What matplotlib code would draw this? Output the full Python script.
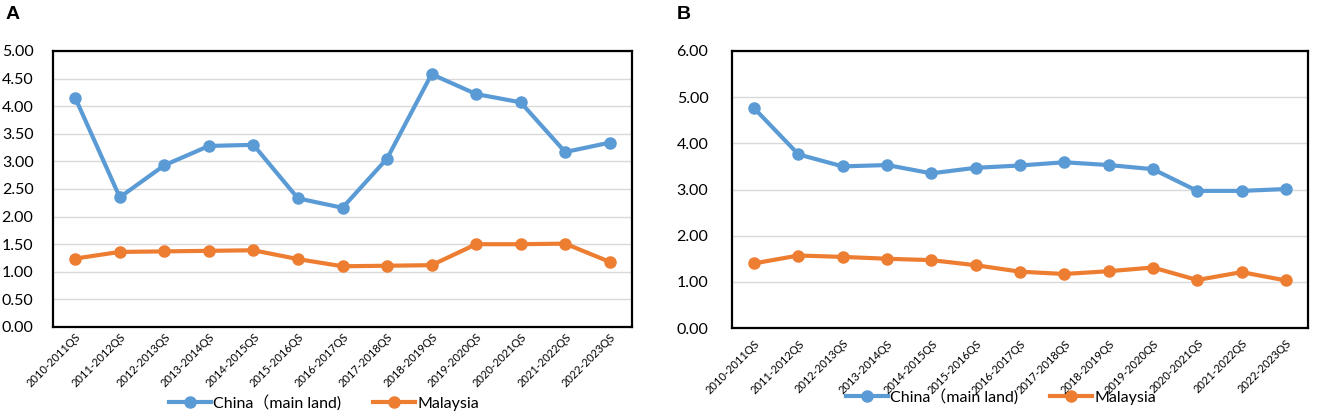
import matplotlib
matplotlib.use('Agg')
import matplotlib.pyplot as plt

# x categories (shared by both panels)
periods = ['2010-2011QS', '2011-2012QS', '2012-2013QS', '2013-2014QS', '2014-2015QS',
           '2015-2016QS', '2016-2017QS', '2017-2018QS', '2018-2019QS', '2019-2020QS',
           '2020-2021QS', '2021-2022QS', '2022-2023QS']

# Panel A
china_a = [4.15, 2.35, 2.93, 3.28, 3.30, 2.33, 2.16, 3.05, 4.58, 4.22, 4.07, 3.17, 3.34]
malaysia_a = [1.24, 1.36, 1.37, 1.38, 1.39, 1.23, 1.10, 1.11, 1.12, 1.50, 1.50, 1.51, 1.18]
yticks_a = [0, 0.5, 1.0, 1.5, 2.0, 2.5, 3.0, 3.5, 4.0, 4.5, 5.0]

# Panel B
china_b = [4.76, 3.76, 3.50, 3.53, 3.35, 3.47, 3.52, 3.59, 3.53, 3.44, 2.97, 2.97, 3.01]
malaysia_b = [1.40, 1.57, 1.54, 1.50, 1.47, 1.36, 1.22, 1.17, 1.23, 1.31, 1.04, 1.21, 1.03]
yticks_b = [0, 1, 2, 3, 4, 5, 6]

labels = ['China（main land)', 'Malaysia']
blue = '#5B9BD5'
orange = '#ED7D31'
fonts = ['Lato', 'Noto Sans CJK SC', 'DejaVu Sans']
plt.rcParams['font.family'] = fonts

W, H = 1325, 420
fig = plt.figure(figsize=(W / 100, H / 100), dpi=100)

def px_rect(left, right, top, bottom):
    return [left / W, 1 - bottom / H, (right - left) / W, (bottom - top) / H]

def draw(rect, china, malaysia, yticks, ypad, xpad, legend_xy):
    ax = fig.add_axes(rect)
    x = range(len(periods))
    ax.plot(x, china, color=blue, lw=3, marker='o', markersize=8, label=labels[0], zorder=3)
    ax.plot(x, malaysia, color=orange, lw=3, marker='o', markersize=8, label=labels[1], zorder=3)
    ax.set_xlim(-0.5, len(periods) - 0.5)
    ax.set_ylim(yticks[0], yticks[-1])
    ax.set_yticks(yticks)
    ax.set_yticklabels([f'{v:.2f}' for v in yticks], fontsize=11.5)
    ax.set_xticks(list(x))
    ax.set_xticklabels(periods, rotation=45, ha='right', rotation_mode='anchor', fontsize=8)
    ax.tick_params(length=0)
    ax.tick_params(axis='y', pad=ypad)
    ax.tick_params(axis='x', pad=xpad)
    ax.grid(axis='y', color='#d9d9d9', lw=1)
    ax.set_axisbelow(True)
    for s in ax.spines.values():
        s.set_color('black')
        s.set_linewidth(1.6)
    fig.legend(handles=ax.get_lines(), labels=labels, loc='center',
               bbox_to_anchor=legend_xy, ncol=2,
               frameon=False, fontsize=11.5, handlelength=2.6, columnspacing=2.0,
               handletextpad=0.15)
    return ax

draw(px_rect(53, 632, 51, 327), china_a, malaysia_a, yticks_a, 14, 3,
     (324 / W, 1 - 403 / H))
draw(px_rect(732, 1308, 51, 328), china_b, malaysia_b, yticks_b, 17, 7,
     (1001 / W, 1 - 397 / H))

fig.text(6 / W, 1 - 6 / H, 'A', fontsize=14, fontweight='bold', va='top', family=['Liberation Sans'])
fig.text(677 / W, 1 - 6 / H, 'B', fontsize=14, fontweight='bold', va='top', family=['Liberation Sans'])

fig.savefig('out.png', dpi=100)
